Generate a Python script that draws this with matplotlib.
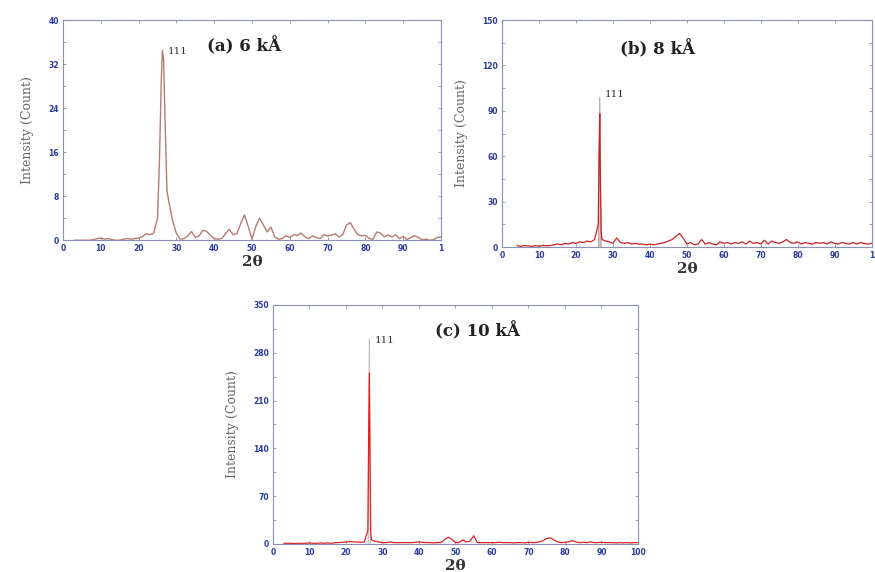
import numpy as np
import matplotlib
matplotlib.use('Agg')
import matplotlib.pyplot as plt
from matplotlib.ticker import MultipleLocator

# panel (a) 6 kA
a_x = np.concatenate([np.arange(3, 25), [25, 25.5, 26, 26.3, 26.6, 27, 27.5, 28], np.arange(29, 101)])
a_y = [0, 0, 0, 0, 0, 0.1, 0.3, 0.4, 0.2, 0.3, 0.1, 0, 0, 0.2, 0.3, 0.2, 0.3, 0.4, 0.6, 1.2, 1.0, 1.3,
       4, 14, 29, 34.5, 33, 22, 9, 7,
       3.5, 1.2, 0.2, 0.3, 0.8, 1.6, 0.5, 0.8, 1.8, 1.6, 0.9, 0.3, 0.2, 0.3, 1.2, 2.0, 1.0, 1.2, 3.0, 4.6,
       2.5, 0.2, 2.5, 4.0, 2.8, 1.5, 2.4, 0.6, 0.2, 0.3, 0.8, 0.5, 1.0, 0.9, 1.3, 0.6, 0.3, 0.8, 0.5, 0.3,
       1.0, 0.8, 0.9, 1.2, 0.6, 1.0, 2.8, 3.2, 2.0, 1.0, 0.8, 0.9, 0.3, 0.2, 1.5, 1.3, 0.6, 1.0, 0.6, 1.0,
       0.3, 0.7, 0.1, 0.5, 0.8, 0.5, 0.1, 0.2, 0.0, 0.1, 0.5, 0.6]

# panel (b) 8 kA
b_x = np.concatenate([np.arange(4, 26), [26, 26.2, 26.4, 26.6, 26.8], np.arange(27, 101)])
b_y = [1, 0.5, 1, 0.8, 0.5, 1, 0.6, 1.2, 0.8, 1, 1.5, 2, 1.5, 2.5, 2, 3, 2.5, 3.5, 3, 4, 3.5, 5,
       15, 60, 88, 40, 10,
       5, 4, 3.5, 2.5, 6, 3, 2.5, 3, 2, 2.5, 2, 2, 1.5, 2, 1.5, 2, 2.5, 3, 4, 5, 7, 9, 6, 2,
       3, 1.5, 2, 5, 2, 3, 2, 1.5, 3.5, 2.5, 3, 2, 3, 2.5, 3.5, 2, 4, 2.5, 3, 2, 4.5, 2, 4, 3,
       2.5, 3.5, 5, 3, 2.5, 3.5, 2, 3, 2.5, 2, 3, 2.5, 3, 2, 3.5, 2.5, 2, 3, 2.5, 2, 3, 2, 3, 2.5,
       2, 2.5]
b_spike_x = [26.05, 26.4, 26.75]
b_spike_y = [0, 99, 0]

# panel (c) 10 kA
c_x = np.concatenate([np.arange(3, 26), [26, 26.2, 26.4, 26.6, 26.8], np.arange(27, 101)])
c_y = [1, 1, 1, 0.5, 1, 1, 1, 1.5, 1, 1, 1.5, 1, 1.5, 1, 2, 2, 2.5, 3, 3.5, 3, 3, 2.5, 3,
       20, 150, 250, 120, 15,
       6, 4, 3, 2, 2, 3, 2, 2, 2, 2, 2, 2, 2.5, 3, 2.5, 2, 2, 1.5, 2, 2, 6, 10, 7, 2, 2, 6, 3, 4,
       12, 2, 2, 2, 2, 2, 2, 2.5, 2, 2, 2, 1.5, 2, 2, 1.5, 2.5, 2, 2, 3, 5, 8, 9, 6, 3, 2, 2.5,
       3, 5, 3, 2, 2.5, 2, 3, 2, 2, 2.5, 2, 2, 2, 1.5, 2, 1.5, 2, 1.5, 2, 2]
c_spike_x = [26.1, 26.4, 26.7]
c_spike_y = [0, 300, 0]

x_ticks = list(range(0, 101, 10))
x_labels_ab = [str(t) for t in x_ticks[:-1]] + ['1']
x_labels_c = [str(t) for t in x_ticks]

tick_col = '#2b3a9c'
spine_col = '#8a90b4'

fig = plt.figure(figsize=(8.75, 5.72), dpi=100)


def style(ax, ymax, ystep, xlabels):
    ax.set_xlim(0, 100)
    ax.set_ylim(0, ymax)
    ax.set_xticks(x_ticks)
    ax.set_xticklabels(xlabels)
    ax.yaxis.set_major_locator(MultipleLocator(ystep))
    ax.yaxis.set_minor_locator(MultipleLocator(ystep / 2))
    ax.tick_params(which='both', direction='in', top=True, right=True, colors=spine_col,
                   labelcolor=tick_col, labelsize=5.5, length=2.5, width=0.6, pad=3)
    for lab in ax.get_xticklabels() + ax.get_yticklabels():
        lab.set_fontweight('bold')
    for s in ax.spines.values():
        s.set_color(spine_col)
        s.set_linewidth(0.8)
    ax.set_xlabel('2θ', family='serif', fontsize=11, fontweight='bold', color='#333333', labelpad=1)
    ax.set_ylabel('Intensity (Count)', family='serif', fontsize=9, color='#666666', labelpad=10)


ax_a = fig.add_axes([0.072, 0.580, 0.432, 0.385])
ax_a.plot(a_x, a_y, color='#b87a72', lw=1.0)
style(ax_a, 40, 8, x_labels_ab)
ax_a.text(27.8, 34.3, '111', family='serif', fontsize=7.5, color='#333333', va='center')
ax_a.text(48, 0.88 * 40, '(a) 6 kÅ', family='serif', fontsize=12, fontweight='bold', ha='center', va='center',
          color='#222222')

ax_b = fig.add_axes([0.574, 0.568, 0.422, 0.397])
ax_b.fill_between(b_spike_x, b_spike_y, color='#d8c8c8', lw=0)
ax_b.plot(b_spike_x, b_spike_y, color='#b0a8a8', lw=0.8)
ax_b.plot(b_x, b_y, color='#cc2222', lw=0.9)
style(ax_b, 150, 30, x_labels_ab)
ax_b.text(27.8, 101, '111', family='serif', fontsize=7.5, color='#333333', va='center')
ax_b.text(42, 0.87 * 150, '(b) 8 kÅ', family='serif', fontsize=12, fontweight='bold', ha='center', va='center',
          color='#222222')

ax_c = fig.add_axes([0.312, 0.049, 0.417, 0.418])
ax_c.plot(c_spike_x, c_spike_y, color='#c8b8b8', lw=0.8)
ax_c.plot(c_x, c_y, color='#dd2222', lw=0.9)
style(ax_c, 350, 70, x_labels_c)
ax_c.text(27.8, 298, '111', family='serif', fontsize=7.5, color='#333333', va='center')
ax_c.text(56, 0.89 * 350, '(c) 10 kÅ', family='serif', fontsize=12, fontweight='bold', ha='center', va='center',
          color='#222222')

fig.savefig('out.png', dpi=100)
